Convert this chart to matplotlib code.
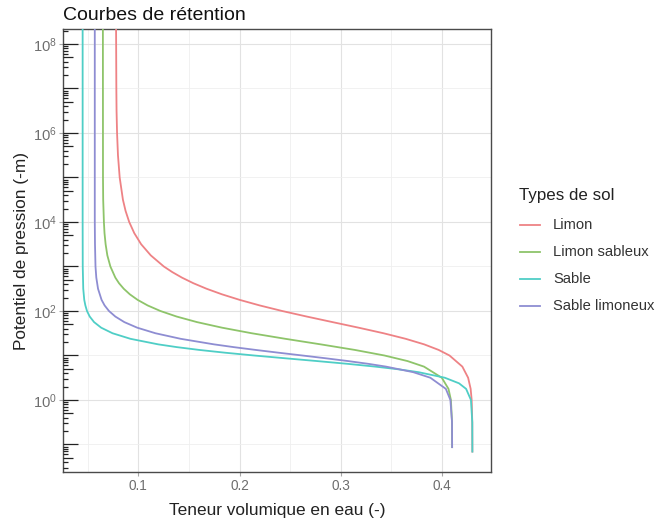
import matplotlib
matplotlib.use("Agg")
import matplotlib.pyplot as plt
from matplotlib.collections import LineCollection
from matplotlib.lines import Line2D
from matplotlib import transforms
from matplotlib.ticker import FixedLocator, FixedFormatter, NullFormatter
import numpy as np

plt.rcParams['font.family'] = ['Liberation Sans', 'DejaVu Sans']
plt.rcParams['mathtext.fontset'] = 'custom'
plt.rcParams['mathtext.rm'] = 'Liberation Sans'

# ---- retention curves: log10 of pressure head (m) and volumetric water content ----
soil_types = ['Limon', 'Limon sableux', 'Sable', 'Sable limoneux']

limon_logh = [-1.18, -0.5, 0, 0.25, 0.5, 0.75, 1.0, 1.125, 1.25, 1.375, 1.5, 1.625,
              1.75, 1.875, 2.0, 2.125, 2.25, 2.375, 2.5, 2.625, 2.75, 2.875, 3.0, 3.25,
              3.5, 3.75, 4.0, 4.25, 4.5, 5.0, 5.5, 6.0, 6.5, 7.0, 8.5]
limon_theta = [0.4300, 0.4299, 0.4293, 0.4283, 0.4258, 0.4201, 0.4074, 0.3967, 0.3824,
               0.3641, 0.3422, 0.3176, 0.2919, 0.2664, 0.2421, 0.2199, 0.2001, 0.1826,
               0.1674, 0.1543, 0.1431, 0.1335, 0.1252, 0.1123, 0.1028, 0.0960, 0.0910,
               0.0874, 0.0848, 0.0816, 0.0799, 0.0790, 0.0785, 0.0783, 0.0780]

limon_sableux_logh = [-1.08, -0.5, 0, 0.25, 0.5, 0.75, 0.875, 1.0, 1.125, 1.25, 1.375,
                      1.5, 1.625, 1.75, 1.875, 2.0, 2.125, 2.25, 2.375, 2.5, 2.625, 2.75,
                      3.0, 3.25, 3.5, 3.75, 4.0, 4.5, 5.0, 8.5]
limon_sableux_theta = [0.4100, 0.4099, 0.4088, 0.4064, 0.3998, 0.3822, 0.3659, 0.3431,
                       0.3139, 0.2802, 0.2452, 0.2120, 0.1827, 0.1580, 0.1379, 0.1218,
                       0.1092, 0.0993, 0.0916, 0.0856, 0.0809, 0.0773, 0.0724, 0.0694,
                       0.0677, 0.0666, 0.0660, 0.0653, 0.0651, 0.0650]

sable_logh = [-1.18, -0.5, 0, 0.25, 0.375, 0.5, 0.625, 0.6875, 0.75, 0.8125, 0.875,
              0.9375, 1.0, 1.0625, 1.125, 1.1875, 1.25, 1.375, 1.5, 1.625, 1.75, 1.875,
              2.0, 2.125, 2.25, 2.5, 3.0, 4.0, 8.5]
sable_theta = [0.4300, 0.4299, 0.4286, 0.4238, 0.4168, 0.4028, 0.3768, 0.3577, 0.3341,
               0.3067, 0.2764, 0.2450, 0.2143, 0.1857, 0.1602, 0.1382, 0.1197, 0.0922,
               0.0745, 0.0633, 0.0563, 0.0520, 0.0493, 0.0477, 0.0466, 0.0456, 0.0451,
               0.0450, 0.0450]

sable_limoneux_logh = [-1.08, -0.5, 0, 0.25, 0.5, 0.625, 0.75, 0.8125, 0.875, 0.9375,
                       1.0, 1.0625, 1.125, 1.1875, 1.25, 1.375, 1.5, 1.625, 1.75, 1.875,
                       2.0, 2.125, 2.25, 2.5, 2.75, 3.0, 3.5, 4.0, 8.5]
sable_limoneux_theta = [0.4100, 0.4099, 0.4083, 0.4038, 0.3885, 0.3716, 0.3447, 0.3272,
                        0.3071, 0.2851, 0.2620, 0.2386, 0.2159, 0.1944, 0.1748, 0.1418,
                        0.1169, 0.0989, 0.0862, 0.0773, 0.0710, 0.0667, 0.0637, 0.0602,
                        0.0585, 0.0577, 0.0572, 0.0570, 0.0570]

x_ticks = [0.1, 0.2, 0.3, 0.4]
x_tick_labels = ['0.1', '0.2', '0.3', '0.4']
y_label_exponents = [0, 2, 4, 6, 8]

colors = ['#EE8285', '#8EC46A', '#4FCEC6', '#8E8DD2']

series = [
    (limon_logh, limon_theta),
    (limon_sableux_logh, limon_sableux_theta),
    (sable_logh, sable_theta),
    (sable_limoneux_logh, sable_limoneux_theta),
]

W, H = 656, 527
fig = plt.figure(figsize=(W / 100, H / 100), dpi=100)
left, right, top, bottom = 63, 491, 29, 472.3
ax = fig.add_axes([left / W, 1 - bottom / H, (right - left) / W, (bottom - top) / H])

for (lh, th), col in zip(series, colors):
    ax.plot(th, 10.0 ** np.asarray(lh), color=col, lw=1.3, solid_capstyle='butt',
            solid_joinstyle='round', zorder=3)

ax.set_yscale('log')
ax.set_xlim(0.0256, 0.4484)
ax.set_ylim(10 ** -1.625, 10 ** 8.337)

# ticks and grid
ax.xaxis.set_major_locator(FixedLocator(x_ticks))
ax.xaxis.set_major_formatter(FixedFormatter(x_tick_labels))
ax.xaxis.set_minor_locator(FixedLocator([0.05, 0.15, 0.25, 0.35]))
ax.yaxis.set_major_locator(FixedLocator([10.0 ** k for k in y_label_exponents]))
ax.yaxis.set_major_formatter(FixedFormatter([r'$\mathregular{10^{%d}}$' % k for k in y_label_exponents]))
ax.yaxis.set_minor_locator(FixedLocator([10.0 ** k for k in (-1, 1, 3, 5, 7)]))
ax.yaxis.set_minor_formatter(NullFormatter())

ax.grid(which='major', color='#e2e2e2', lw=0.8, zorder=0)
ax.grid(which='minor', color='#efefef', lw=0.6, zorder=0)
ax.set_axisbelow(True)
ax.tick_params(which='major', length=2.6, width=0.8, color='#a8a8a8',
               labelcolor='#6e6e6e', pad=2.5)
ax.tick_params(axis='x', which='major', labelsize=9.8)
ax.tick_params(axis='y', which='major', labelsize=10.6, pad=2)
ax.tick_params(which='minor', length=0)

for s in ax.spines.values():
    s.set_color('#4a4a4a')
    s.set_linewidth(1.0)

# log tick marks along the left side, inside the panel
trans = transforms.blended_transform_factory(ax.transAxes, ax.transData)
ymin, ymax = ax.get_ylim()
segs = []
pw = right - left
for k in range(-2, 9):
    for j in range(1, 10):
        v = j * 10.0 ** k
        if ymin <= v <= ymax:
            ln = 15 if j == 1 else (10 if j == 5 else 5)
            segs.append([(0, v), (ln / pw, v)])
ax.add_collection(LineCollection(segs, colors='#222222', linewidths=0.9,
                                 transform=trans, zorder=4))

ax.set_xlabel('Teneur volumique en eau (-)', fontsize=12.4, color='#222222', labelpad=7)
ax.set_ylabel('Potentiel de pression (-m)', fontsize=12.4, color='#222222', labelpad=3)

fig.text(left / W, 1 - 15 / H, 'Courbes de rétention', fontsize=14, color='#111111',
         ha='left', va='center')

# legend
fig.text(519 / W, 1 - 196 / H, 'Types de sol', fontsize=12.2, color='#222222',
         ha='left', va='center')
for i, (name, col) in enumerate(zip(soil_types, colors)):
    yc = 1 - (225 + 27 * i) / H
    fig.add_artist(Line2D([520 / W, 540 / W], [yc, yc], color=col, lw=1.3,
                          transform=fig.transFigure))
    fig.text(553 / W, yc, name, fontsize=10.6, color='#333333', ha='left', va='center')

fig.savefig('out.png', dpi=100)
